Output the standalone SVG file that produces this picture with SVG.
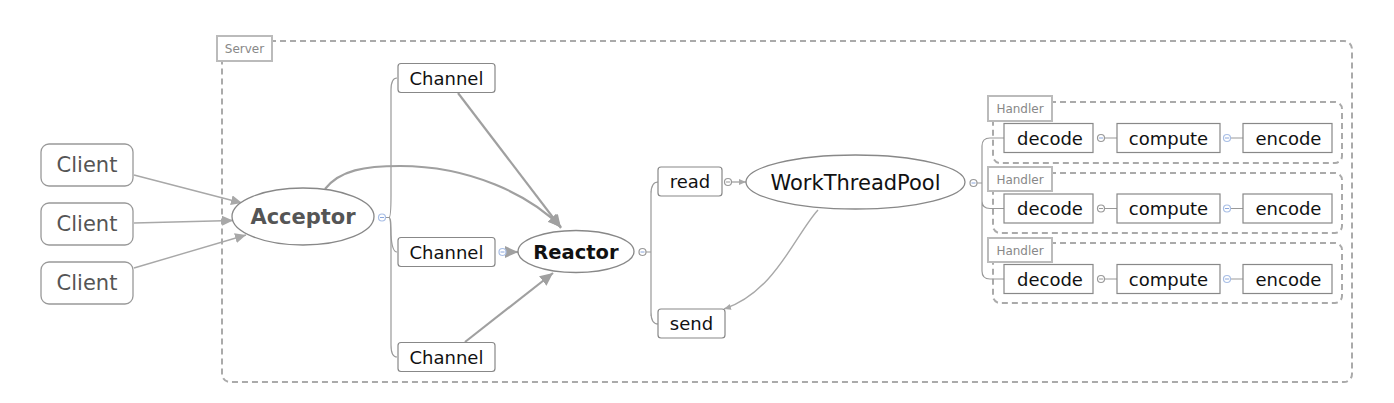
<svg xmlns="http://www.w3.org/2000/svg" width="1394" height="403" viewBox="0 0 1394 403">
<style>
text{font-family:"DejaVu Sans","Liberation Sans",sans-serif;text-anchor:middle}
.client{fill:#fff;stroke:#999;stroke-width:1.3}
.box{fill:#fff;stroke:#888;stroke-width:1.2}
.ell{fill:#fff;stroke:#888;stroke-width:1.3}
.dash{fill:none;stroke:#aaa;stroke-width:2;stroke-dasharray:6 4}
.lbl{fill:#fff;stroke:#bbb;stroke-width:2}
.lbltxt{font-size:12px;fill:#888}
.t18{font-size:18px;fill:#111}
.tree{fill:none;stroke:#999;stroke-width:1.2}
.arr{fill:none;stroke:#a8a8a8;stroke-width:1.4}
.arr2{fill:none;stroke:#a0a0a0;stroke-width:2.2}
.cb{fill:#fff;stroke:#a9bfe6;stroke-width:1.2}
.cg{fill:#fff;stroke:#999;stroke-width:1.2}
.mb{stroke:#8aa6dc;stroke-width:1}
.mg{stroke:#999;stroke-width:1}
</style>
<defs>
<marker id="ah" markerUnits="userSpaceOnUse" markerWidth="12" markerHeight="10" refX="11" refY="5" orient="auto"><path d="M0,0 L11,5 L0,10 z" fill="#a8a8a8"/></marker>
<marker id="ahb" markerUnits="userSpaceOnUse" markerWidth="14" markerHeight="12" refX="13" refY="6" orient="auto"><path d="M0,0 L13,6 L0,12 z" fill="#a0a0a0"/></marker>
<marker id="ahs" markerUnits="userSpaceOnUse" markerWidth="8" markerHeight="8" refX="7" refY="4" orient="auto"><path d="M0,1 L7,4 L0,7 z" fill="#a8a8a8"/></marker>
</defs>

<g id="server">
<rect class="dash" x="222" y="41" width="1130" height="341" rx="8"/>
<rect class="lbl" x="217" y="36" width="55" height="25"/>
<text class="lbltxt" x="244.5" y="53">Server</text>
</g>

<g id="handler1">
<rect class="dash" x="993" y="102" width="349" height="61" rx="7"/>
<rect class="lbl" x="988" y="96" width="64" height="25"/>
<text class="lbltxt" x="1020" y="113">Handler</text>
</g>
<g id="handler2">
<rect class="dash" x="993" y="173" width="349" height="60" rx="7"/>
<rect class="lbl" x="988" y="167" width="64" height="24"/>
<text class="lbltxt" x="1020" y="184">Handler</text>
</g>
<g id="handler3">
<rect class="dash" x="993" y="243" width="349" height="60" rx="7"/>
<rect class="lbl" x="988" y="238" width="64" height="24"/>
<text class="lbltxt" x="1020" y="255">Handler</text>
</g>

<g id="connectors">
<path class="arr" d="M134,175 L242,203" marker-end="url(#ah)"/>
<path class="arr" d="M134,223 L233,220.5" marker-end="url(#ah)"/>
<path class="arr" d="M134,268 L246,235" marker-end="url(#ah)"/>
<path class="tree" d="M386,217.5 L389,217.5 C391,217.5 391,205 391,195 L391,90 Q391,78 397,78"/>
<path class="tree" d="M389,217.5 C391,217.5 391,225 391,235 Q392,252 397,252"/>
<path class="tree" d="M389,217.5 C391,217.5 391,235 391,250 L391,345 Q391,357 397,357"/>
<path class="arr2" d="M325,189 C340,170 365,166 400,166 C470,166 530,195 561,227" marker-end="url(#ahb)"/>
<path class="arr2" d="M458,93 L561,228" marker-end="url(#ahb)"/>
<path class="arr2" d="M465,342 L553,273" marker-end="url(#ahb)"/>
<path class="arr2" d="M506,252 L518,252" marker-end="url(#ahb)"/>
<path class="tree" d="M646,252 L651,252 M651,191 L651,316 M651,194 Q651,182 658,182 M651,312 Q651,324 658,324"/>
<path class="arr" d="M731.5,182 L746,182" marker-end="url(#ahs)"/>
<path class="arr" d="M818,210 C795,235 775,292 724,309" marker-end="url(#ahs)"/>
<path class="tree" d="M977,183 L982,183 M982,146 L982,271 M982,146 Q982,138 990,138 L1004,138 M982,201 Q982,208.5 990,208.5 L1004,208.5 M982,271 Q982,279 990,279 L1004,279"/>
<path class="tree" d="M1104.5,138 L1117,138 M1230.5,138 L1243,138 M1104.5,208.5 L1117,208.5 M1230.5,208.5 L1243,208.5 M1104.5,279 L1117,279 M1230.5,279 L1243,279"/>
</g>

<g id="client1"><rect class="client" x="41" y="144" width="92" height="42" rx="8"/><text x="87" y="172" font-size="21" fill="#555">Client</text></g>
<g id="client2"><rect class="client" x="41" y="203" width="92" height="42" rx="8"/><text x="87" y="231" font-size="21" fill="#555">Client</text></g>
<g id="client3"><rect class="client" x="41" y="262" width="92" height="42" rx="8"/><text x="87" y="290" font-size="21" fill="#555">Client</text></g>

<g id="acceptor"><ellipse class="ell" cx="303" cy="216.5" rx="71" ry="28.5"/><text x="303" y="224" font-size="21" font-weight="bold" fill="#555">Acceptor</text>
<circle class="cb" cx="382" cy="217.5" r="3.5"/><line class="mb" x1="380" y1="217.5" x2="384" y2="217.5"/></g>

<g id="channel1"><rect class="box" x="398" y="63.5" width="97" height="29" rx="3"/><text class="t18" x="446.5" y="84.5">Channel</text></g>
<g id="channel2"><rect class="box" x="398" y="237.5" width="97" height="29" rx="3"/><text class="t18" x="446.5" y="258.5">Channel</text>
<circle class="cb" cx="502.5" cy="252" r="3.5"/><line class="mb" x1="500.5" y1="252" x2="504.5" y2="252"/></g>
<g id="channel3"><rect class="box" x="398" y="342.5" width="97" height="29" rx="3"/><text class="t18" x="446.5" y="363.5">Channel</text></g>

<g id="reactor"><ellipse class="ell" cx="576" cy="251.5" rx="58" ry="21"/><text x="576" y="258.5" font-size="19.5" font-weight="bold" fill="#111">Reactor</text>
<circle class="cg" cx="642.5" cy="252" r="3.5"/><line class="mb" x1="640.5" y1="252" x2="644.5" y2="252"/></g>

<g id="read"><rect class="box" x="658" y="167" width="64" height="29" rx="3"/><text class="t18" x="690" y="188">read</text>
<circle class="cg" cx="728" cy="182" r="3.5"/><line class="mg" x1="726" y1="182" x2="730" y2="182"/></g>
<g id="send"><rect class="box" x="658" y="309" width="67" height="29" rx="3"/><text class="t18" x="691.5" y="330">send</text></g>

<g id="workthreadpool"><ellipse class="ell" cx="855.5" cy="182" rx="109.5" ry="27"/><text x="855.5" y="189.5" font-size="21" fill="#111">WorkThreadPool</text>
<circle class="cg" cx="973.5" cy="183" r="3.5"/><line class="mb" x1="971.5" y1="183" x2="975.5" y2="183"/></g>

<g id="decode1"><rect class="box" x="1004" y="123.5" width="89" height="29"/><text class="t18" x="1050" y="144.5">decode</text>
<circle class="cg" cx="1101" cy="138" r="3.5"/><line class="mb" x1="1099" y1="138" x2="1103" y2="138"/></g>
<g id="compute1"><rect class="box" x="1117" y="123.5" width="103" height="29"/><text class="t18" x="1168.5" y="144.5">compute</text>
<circle class="cb" cx="1227" cy="138" r="3.5"/><line class="mb" x1="1225" y1="138" x2="1229" y2="138"/></g>
<g id="encode1"><rect class="box" x="1243" y="123.5" width="89" height="29"/><text class="t18" x="1288.5" y="144.5">encode</text></g>

<g id="decode2"><rect class="box" x="1004" y="194" width="89" height="29"/><text class="t18" x="1050" y="215">decode</text>
<circle class="cg" cx="1101" cy="208.5" r="3.5"/><line class="mg" x1="1099" y1="208.5" x2="1103" y2="208.5"/></g>
<g id="compute2"><rect class="box" x="1117" y="194" width="103" height="29"/><text class="t18" x="1168.5" y="215">compute</text>
<circle class="cb" cx="1227" cy="208.5" r="3.5"/><line class="mb" x1="1225" y1="208.5" x2="1229" y2="208.5"/></g>
<g id="encode2"><rect class="box" x="1243" y="194" width="89" height="29"/><text class="t18" x="1288.5" y="215">encode</text></g>

<g id="decode3"><rect class="box" x="1004" y="264.5" width="89" height="29"/><text class="t18" x="1050" y="285.5">decode</text>
<circle class="cg" cx="1101" cy="279" r="3.5"/><line class="mg" x1="1099" y1="279" x2="1103" y2="279"/></g>
<g id="compute3"><rect class="box" x="1117" y="264.5" width="103" height="29"/><text class="t18" x="1168.5" y="285.5">compute</text>
<circle class="cb" cx="1227" cy="279" r="3.5"/><line class="mb" x1="1225" y1="279" x2="1229" y2="279"/></g>
<g id="encode3"><rect class="box" x="1243" y="264.5" width="89" height="29"/><text class="t18" x="1288.5" y="285.5">encode</text></g>
</svg>
